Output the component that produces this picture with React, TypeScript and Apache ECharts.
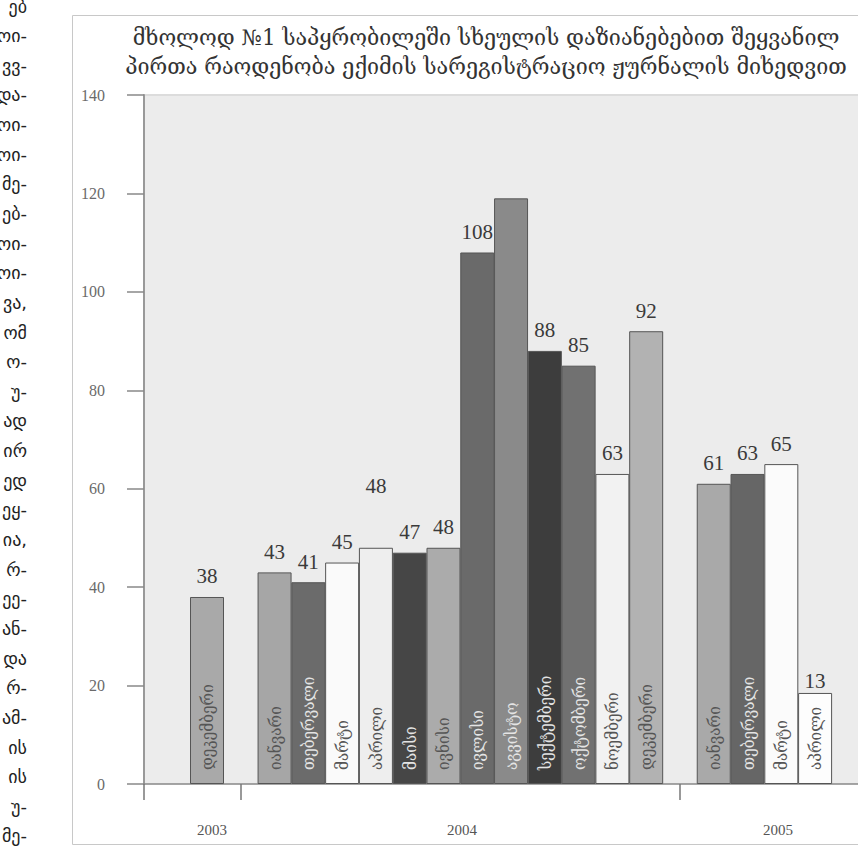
import React, { useEffect, useRef } from "react";
import * as echarts from "echarts";

// ---- data ----
const titleLines = [
  "მხოლოდ №1 საპყრობილეში სხეულის დაზიანებებით შეყვანილ",
  "პირთა რაოდენობა ექიმის სარეგისტრაციო ჟურნალის მიხედვით",
];
const years = ["2003", "2004", "2005"];
const yearLabelSlots = [1.15, 8.55, 17.9];
const yearBoundarySlots = [-0.865, 2, 15];
const slots = [1, 3, 4, 5, 6, 7, 8, 9, 10, 11, 12, 13, 14, 16, 17, 18, 19];
const months = [
  "დეკემბერი",
  "იანვარი", "თებერვალი", "მარტი", "აპრილი", "მაისი", "ივნისი",
  "ივლისი", "აგვისტო", "სექტემბერი", "ოქტომბერი", "ნოემბერი", "დეკემბერი",
  "იანვარი", "თებერვალი", "მარტი", "აპრილი",
];
// bar heights as drawn in the picture
const barHeights = [38, 43, 41, 45, 48, 47, 48, 108, 119, 88, 85, 63, 92, 61, 63, 65, 18.5];
// numbers printed above the bars
const printedValues = ["38", "43", "41", "45", "48", "47", "48", "108", "", "88", "85", "63", "92", "61", "63", "65", "13"];
const yTicks = [0, 20, 40, 60, 80, 100, 120, 140];
// text fragments of the neighbouring page column
const sideFragments = [
  "ებ", "ოი-", "ვვ-", "და-", "ოი-", "ოი-", "მე-", "ებ-", "ოი-", "ოი-",
  "ვა,", "ომ", "ო-", "უ-", "ად", "ირ", "ედ", "ეყ-", "ია,", "რ-",
  "ეე-", "ან-", "და", "რ-", "ამ-", "ის", "ის", "უ-", "მე-",
];

// ---- styles ----
const barColors = [
  "#a9a9a9",
  "#a6a6a6", "#6b6b6b", "#fafafa", "#eeeeee", "#464646", "#ababab",
  "#6a6a6a", "#8a8a8a", "#3d3d3d", "#717171", "#f2f2f2", "#b2b2b2",
  "#a9a9a9", "#666666", "#fbfbfb", "#fdfdfd",
];
const lightText = (c: string) => parseInt(c.slice(1, 3), 16) < 0x95;
const labelOffsets: Record<number, [number, number]> = { 4: [0, -41], 16: [0, 9] };

const SERIF_NUM = "'Liberation Serif', 'DejaVu Serif', serif";
const GEO = "'DejaVu Serif', 'DejaVu Sans', serif";
const GEO_COND = "'DejaVu Serif Condensed', 'DejaVu Sans Condensed', 'DejaVu Serif', serif";

export default function App() {
  const ref = useRef<HTMLDivElement>(null);
  useEffect(() => {
    document.body.style.margin = "0";
    const chart = echarts.init(ref.current!, null, { renderer: "svg" });

    const mainData = slots.map((s, i) => ({
      value: [s, barHeights[i]],
      itemStyle: { color: barColors[i], borderColor: "#555", borderWidth: 1 },
      label: {
        show: printedValues[i] !== "",
        formatter: printedValues[i],
        offset: labelOffsets[i] || [0, 0],
      },
    }));
    const monthData = slots.map((s, i) => ({
      value: [s, barHeights[i]],
      label: {
        formatter: months[i],
        color: lightText(barColors[i]) ? "#e4e4e4" : "#555",
      },
    }));

    const graphics: any[] = [
      {
        type: "rect",
        shape: { x: 72.5, y: 15.5, width: 820, height: 829 },
        style: { fill: "none", stroke: "#c8c8c8", lineWidth: 1 },
        silent: true,
      },
      {
        type: "line",
        shape: { x1: 144, y1: 95, x2: 858, y2: 95 },
        style: { stroke: "#dcdcdc", lineWidth: 2 },
        silent: true,
      },
    ];
    sideFragments.forEach((t, i) => {
      graphics.push({
        type: "text",
        x: 27,
        y: 6 + i * 29.64,
        style: {
          text: t,
          align: "right",
          verticalAlign: "middle",
          fontSize: 18,
          fontFamily: "'DejaVu Sans', sans-serif",
          fill: "#222",
        },
        silent: true,
      });
    });

    chart.setOption({
      animation: false,
      backgroundColor: "#ffffff",
      title: {
        text: titleLines.join("\n"),
        left: 481,
        top: 18,
        textAlign: "center",
        textStyle: {
          fontSize: 21.5,
          fontWeight: "normal",
          fontFamily: GEO,
          color: "#333",
          lineHeight: 29,
        },
      },
      grid: {
        left: 144,
        right: 0,
        top: 95,
        bottom: 63,
        show: true,
        backgroundColor: "#ececec",
        borderWidth: 0,
        outerBoundsMode: "none",
        containLabel: false,
      },
      xAxis: {
        type: "value",
        min: -0.865,
        max: 20.27,
        splitLine: { show: false },
        axisLine: { show: true, onZero: false, lineStyle: { color: "#888", width: 1.5 } },
        axisTick: {
          show: true,
          customValues: yearBoundarySlots,
          length: 16,
          lineStyle: { color: "#777", width: 1.5 },
        },
        axisLabel: {
          customValues: yearLabelSlots,
          formatter: (v: number) => {
            const i = yearLabelSlots.findIndex((p) => Math.abs(p - v) < 1e-6);
            return i >= 0 ? years[i] : "";
          },
          margin: 38,
          fontSize: 15,
          fontFamily: SERIF_NUM,
          color: "#555",
        },
      },
      yAxis: {
        type: "value",
        min: yTicks[0],
        max: yTicks[yTicks.length - 1],
        interval: 20,
        splitLine: { show: false },
        axisLine: { show: true, onZero: false, lineStyle: { color: "#999", width: 2 } },
        axisTick: { show: true, length: 17, lineStyle: { color: "#888", width: 1.5 } },
        axisLabel: {
          margin: 39,
          fontSize: 16,
          fontFamily: SERIF_NUM,
          color: "#6a6a6a",
        },
      },
      series: [
        {
          type: "bar",
          barWidth: 34,
          barGap: "-100%",
          data: mainData,
          label: {
            show: true,
            position: "top",
            distance: 10,
            fontSize: 21,
            fontFamily: SERIF_NUM,
            color: "#3a3a3a",
          },
          z: 2,
        },
        {
          type: "bar",
          barWidth: 34,
          barGap: "-100%",
          silent: true,
          data: monthData,
          itemStyle: { color: "rgba(0,0,0,0)", borderWidth: 0 },
          label: {
            show: true,
            position: "insideBottom",
            rotate: 90,
            align: "left",
            verticalAlign: "middle",
            distance: 14,
            fontSize: 17,
            fontFamily: GEO_COND,
          },
          z: 3,
        },
      ],
      graphic: graphics,
    });
    return () => chart.dispose();
  }, []);
  return (
    <div
      ref={ref}
      style={{ position: "fixed", left: 0, top: 0, width: 858, height: 847 }}
    />
  );
}
